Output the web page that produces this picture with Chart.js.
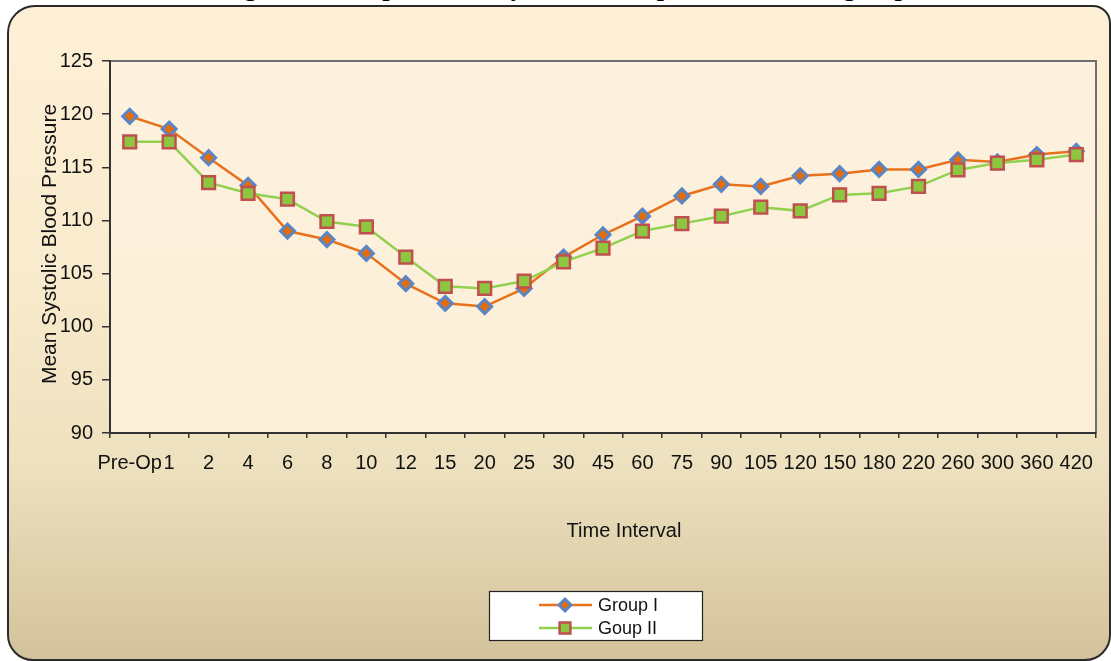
<!DOCTYPE html>
<html><head><meta charset="utf-8">
<script src="https://cdn.jsdelivr.net/npm/chart.js@4.4.0/dist/chart.umd.min.js"></script>
<style>
html,body{margin:0;padding:0;width:1111px;height:661px;overflow:hidden;background:#ffffff;}
#title{position:absolute;left:0;width:1140px;top:-25px;text-align:center;font:bold 26px "Liberation Serif";line-height:26px;color:#000;white-space:nowrap;z-index:0;}
#frame{position:absolute;left:7px;top:5px;width:1104px;height:656px;border:2px solid #2a2a2a;border-radius:28px 18px 26px 26px;box-sizing:border-box;
background:linear-gradient(180deg,#fdf0d6 0%,#f9ebcd 40%,#eee1bf 70%,#d3c39c 100%);z-index:1;}
#c{position:absolute;left:0;top:0;z-index:2;}
</style></head>
<body>
<div id="title">Figure 1: Comparison of systolic blood pressure in both groups</div>
<div id="frame"></div>
<canvas id="c" width="1111" height="661"></canvas>
<script>
const categories = ['Pre-Op','1','2','4','6','8','10','12','15','20','25','30','45','60','75','90','105','120','150','180','220','260','300','360','420'];
const groupI  = [119.8,118.6,115.9,113.3,109.0,108.2,106.9,104.05,102.2,101.9,103.6,106.55,108.65,110.4,112.3,113.4,113.2,114.2,114.4,114.8,114.8,115.7,115.5,116.2,116.5];
const groupII = [117.4,117.4,113.55,112.55,112.0,109.9,109.4,106.55,103.8,103.6,104.3,106.1,107.4,109.0,109.7,110.4,111.25,110.9,112.4,112.55,113.2,114.75,115.4,115.7,116.2];
const yTicks = [90,95,100,105,110,115,120,125];
const seriesLabels = ['Group I','Goup II'];
const xTitle = 'Time Interval';
const yTitle = 'Mean Systolic Blood Pressure';

const FONT = '"Liberation Sans", Arial, sans-serif';

const styleI = {line:'#e8711c', pointStyle:'rectRot', radius:7, fill:'#e46c0a', border:'#5a86c6', bw:3};
const styleII = {line:'#92d050', pointStyle:'rect', radius:9, fill:'#8dc63f', border:'#c0504d', bw:2.5};

const decor = {
  id:'decor',
  beforeDraw(chart){
    const {ctx, chartArea:a} = chart;
    ctx.save();
    const g = ctx.createLinearGradient(0,a.top,0,a.bottom);
    g.addColorStop(0,'#fdf2df');
    g.addColorStop(1,'#fcefd8');
    ctx.fillStyle = g;
    ctx.fillRect(a.left,a.top,a.right-a.left,a.bottom-a.top);
    ctx.strokeStyle = '#6e6e6e';
    ctx.lineWidth = 2;
    ctx.beginPath();
    ctx.moveTo(a.left,a.top); ctx.lineTo(a.right,a.top); ctx.lineTo(a.right,a.bottom);
    ctx.stroke();
    ctx.restore();
  },
  afterDraw(chart){
    const {ctx, chartArea:a} = chart;
    ctx.save();
    ctx.fillStyle = '#111';
    ctx.font = '21px ' + FONT;
    ctx.textAlign = 'center';
    ctx.textBaseline = 'middle';
    ctx.translate(50,(a.top+a.bottom)/2 - 3);
    ctx.rotate(-Math.PI/2);
    ctx.fillText(yTitle,0,0);
    ctx.restore();
    ctx.save();
    ctx.fillStyle = '#111';
    ctx.font = '20px ' + FONT;
    ctx.textAlign = 'center';
    ctx.textBaseline = 'middle';
    ctx.fillText(xTitle,624,531);
    const bx=489, by=591, bw=213, bh=49;
    ctx.fillStyle = '#ffffff';
    ctx.fillRect(bx,by,bw,bh);
    ctx.strokeStyle = '#222';
    ctx.lineWidth = 1.2;
    ctx.strokeRect(bx+0.5,by+0.5,bw,bh);
    const items = [[seriesLabels[0],styleI,605],[seriesLabels[1],styleII,628]];
    items.forEach(([lab,s,y])=>{
      ctx.strokeStyle = s.line;
      ctx.lineWidth = 2.5;
      ctx.beginPath(); ctx.moveTo(539,y); ctx.lineTo(592,y); ctx.stroke();
      ctx.save();
      ctx.fillStyle = s.fill; ctx.strokeStyle = s.border; ctx.lineWidth = s.bw;
      Chart.helpers.drawPoint(ctx,{pointStyle:s.pointStyle,radius:s.radius*0.85,borderWidth:s.bw},565,y);
      ctx.restore();
      ctx.fillStyle = '#111';
      ctx.font = '18px ' + FONT;
      ctx.textAlign = 'left';
      ctx.textBaseline = 'middle';
      ctx.fillText(lab,598,y+1);
    });
    ctx.restore();
  }
};

new Chart(document.getElementById('c'),{
  type:'line',
  data:{
    labels:categories,
    datasets:[
      {label:seriesLabels[0], data:groupI, borderColor:styleI.line, borderWidth:2.5, tension:0,
       pointStyle:styleI.pointStyle, pointRadius:styleI.radius, pointBackgroundColor:styleI.fill,
       pointBorderColor:styleI.border, pointBorderWidth:styleI.bw, order:1},
      {label:seriesLabels[1], data:groupII, borderColor:styleII.line, borderWidth:2.5, tension:0,
       pointStyle:styleII.pointStyle, pointRadius:styleII.radius, pointBackgroundColor:styleII.fill,
       pointBorderColor:styleII.border, pointBorderWidth:styleII.bw, order:0}
    ]
  },
  options:{
    responsive:false,
    animation:false,
    layout:{padding:{left:0,top:61,right:15,bottom:188}},
    plugins:{legend:{display:false},tooltip:{enabled:false},title:{display:false}},
    scales:{
      x:{
        type:'category',
        offset:true,
        grid:{offset:true,drawOnChartArea:false,drawTicks:true,tickLength:5,color:'#333',lineWidth:1.5},
        border:{color:'#333',width:2},
        ticks:{font:{family:FONT,size:20},color:'#111',padding:13,maxRotation:0,minRotation:0,autoSkip:false},
        afterFit(s){ s.height = 40; }
      },
      y:{
        min:90,max:125,
        afterBuildTicks(s){ s.ticks = yTicks.map(v=>({value:v})); },
        grid:{drawOnChartArea:false,drawTicks:true,tickLength:8,color:'#333',lineWidth:1.5},
        border:{color:'#333',width:2},
        ticks:{font:{family:FONT,size:20},color:'#111',padding:9},
        afterFit(s){ s.width = 110; }
      }
    }
  },
  plugins:[decor]
});
</script>
</body></html>
